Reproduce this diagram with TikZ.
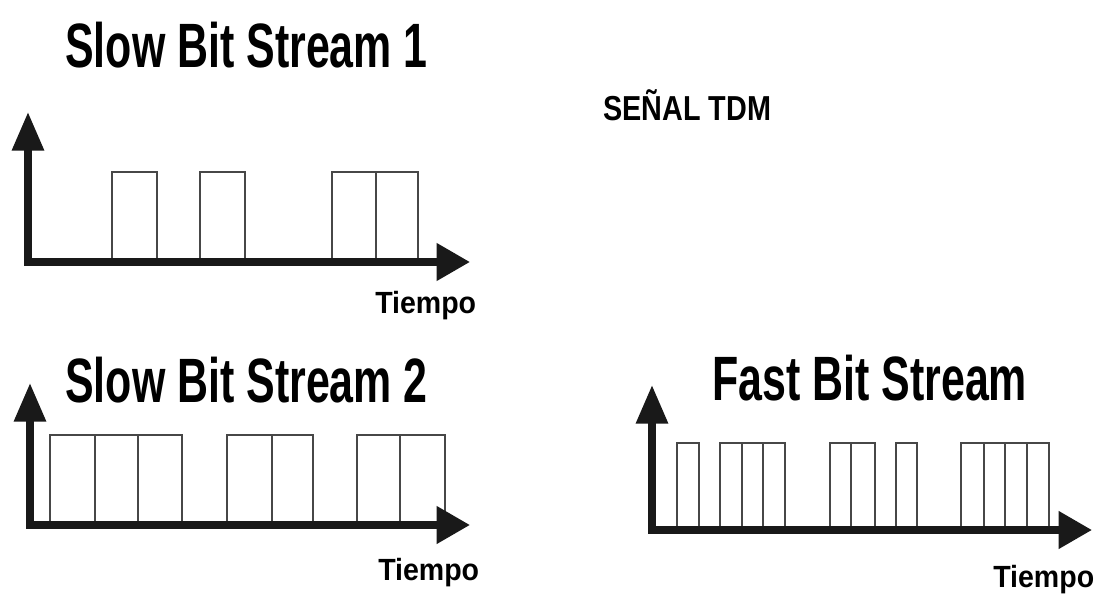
\documentclass[tikz,border=0pt]{standalone}
\usepackage{fontspec}
\usepackage{tikz}
\usetikzlibrary{arrows.meta}
\newfontfamily\titlefont[FakeStretch=0.685]{Liberation Sans}
\newfontfamily\tdmfont[FakeStretch=0.83]{Liberation Sans}
\newfontfamily\timefont[FakeStretch=0.93]{Liberation Sans}
\tikzset{
    axisLine/.style={{Triangle[length=29pt, width=23pt]}-{Triangle[length=25pt, width=27pt]}, line width=5.5pt, black!90},
    pulseLine/.style={line width=2pt, black!72},
    titleText/.style={anchor=base west, inner sep=0pt, font=\titlefont\bfseries\fontsize{47}{50}\selectfont},
    tdmText/.style={anchor=base west, inner sep=0pt, font=\tdmfont\bfseries\fontsize{26}{28}\selectfont},
    timeText/.style={anchor=base west, inner sep=0pt, font=\timefont\bfseries\fontsize{23}{25}\selectfont}
}

\begin{document}
\begin{tikzpicture}[x=0.75pt, y=0.75pt]
    \useasboundingbox (0,0) rectangle (1099,597);
    % --- Labels ---
    \node[titleText] (title1) at (65,529) {Slow Bit Stream 1};
    \node[tdmText] (tdm) at (603,476) {SEÑAL TDM};
    \node[timeText] (time1) at (375,284) {Tiempo};
    \node[titleText] (title2) at (65,195) {Slow Bit Stream 2};
    \node[titleText] (title3) at (712,197) {Fast Bit Stream};
    \node[timeText] (time2) at (378,17) {Tiempo};
    \node[timeText] (time3) at (993,10) {Tiempo};
    % --- Slow stream 1 ---
    \begin{scope}[shift={(28,335)}]
        \draw[pulseLine] (84,0) rectangle (129,90);
        \draw[pulseLine] (172,0) rectangle (217,90);
        \draw[pulseLine] (304,0) rectangle (390,90);
        \draw[pulseLine] (348,0) -- (348,90);
        \coordinate (o1) at (0,0); \coordinate (y1) at (0,150); \coordinate (x1) at (442,0);
        \draw[axisLine] (y1) -- (o1) -- (x1);
    \end{scope}
    % --- Slow stream 2 ---
    \begin{scope}[shift={(30,72)}]
        \draw[pulseLine] (20,0) rectangle (152,90);
        \foreach \x in {65,108} \draw[pulseLine] (\x,0) -- (\x,90);
        \draw[pulseLine] (197,0) rectangle (283,90);
        \draw[pulseLine] (242,0) -- (242,90);
        \draw[pulseLine] (327,0) rectangle (415,90);
        \draw[pulseLine] (370,0) -- (370,90);
        \coordinate (o2) at (0,0); \coordinate (y2) at (0,142); \coordinate (x2) at (440,0);
        \draw[axisLine] (y2) -- (o2) -- (x2);
    \end{scope}
    % --- Fast stream (TDM) ---
    \begin{scope}[shift={(652,67)}]
        \draw[pulseLine] (25,0) rectangle (47,87);
        \draw[pulseLine] (68,0) rectangle (133,87);
        \foreach \x in {90,111} \draw[pulseLine] (\x,0) -- (\x,87);
        \draw[pulseLine] (178,0) rectangle (223,87);
        \draw[pulseLine] (199,0) -- (199,87);
        \draw[pulseLine] (244,0) rectangle (265,87);
        \draw[pulseLine] (309,0) rectangle (397,87);
        \foreach \x in {332,353,375} \draw[pulseLine] (\x,0) -- (\x,87);
        \coordinate (o3) at (0,0); \coordinate (y3) at (0,145); \coordinate (x3) at (440,0);
        \draw[axisLine] (y3) -- (o3) -- (x3);
    \end{scope}
\end{tikzpicture}
\end{document}
